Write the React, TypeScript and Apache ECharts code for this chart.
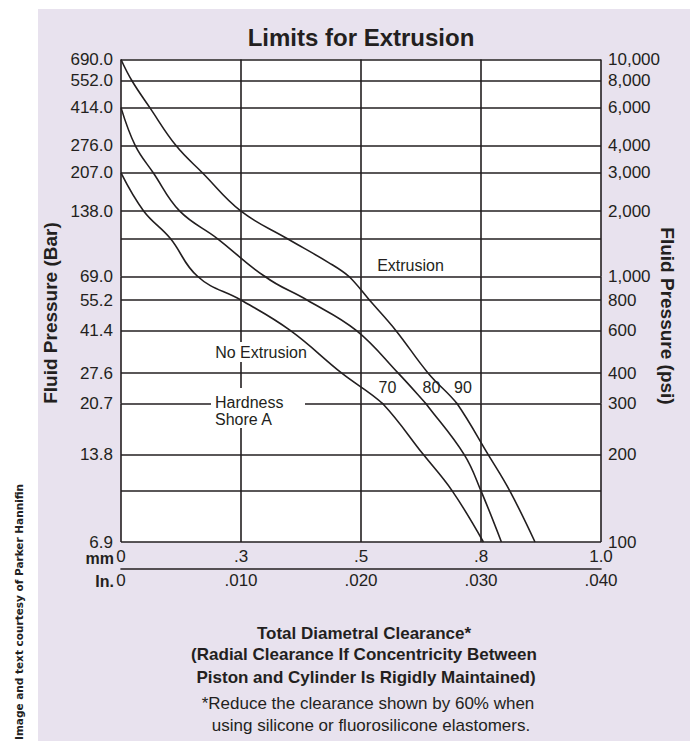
import React, { useEffect, useRef } from 'react';
import * as echarts from 'echarts';

// ---------- data ----------
// clearance axis (inches) and the two tick-label rows
const clearanceInTicks = [0, 0.01, 0.02, 0.03, 0.04];
const mmTickLabels = ['0', '.3', '.5', '.8', '1.0'];
const inTickLabels = ['0', '.010', '.020', '.030', '.040'];

// pressure gridlines / labels
const barTicks = [690, 552, 414, 276, 207, 138, 69, 55.2, 41.4, 27.6, 20.7, 13.8, 6.9];
const barUnlabeledLines = [103.5, 10.35];
const psiTicks = [10000, 8000, 6000, 4000, 3000, 2000, 1000, 800, 600, 400, 300, 200, 100];

// the printed pressure scale is not uniform: it is drawn as three log pieces
const barBands = [[69, 690], [20.7, 69], [6.9, 20.7]];
const psiBands = [[1000, 10000], [300, 1000], [100, 300]];

// curves: [clearance (in), pressure (bar)]
const shoreA70 = [
  [0.0, 207], [0.0019, 138], [0.0041, 103.5], [0.0064, 69], [0.01, 55.2], [0.0141, 41.4],
  [0.0184, 27.6], [0.0218, 20.7], [0.0252, 13.8], [0.0276, 10.35], [0.0302, 6.9],
];
const shoreA80 = [
  [0.0, 414], [0.0012, 276], [0.0027, 207], [0.0049, 138], [0.008, 103.5],
  [0.012, 69], [0.0155, 55.2], [0.0196, 41.4], [0.0231, 27.6], [0.0254, 20.7],
  [0.0286, 13.8], [0.03, 10.35], [0.0317, 6.9],
];
const shoreA90 = [
  [0.0, 690], [0.0009, 552], [0.0024, 414], [0.0046, 276], [0.0068, 207], [0.01, 138],
  [0.0138, 103.5], [0.0173, 80], [0.019, 69], [0.0207, 55.2], [0.0229, 41.4], [0.0256, 27.6],
  [0.028, 20.7], [0.0306, 13.8], [0.0324, 10.35], [0.0345, 6.9],
];
const curves = [shoreA70, shoreA80, shoreA90];

// ---------- layout / style ----------
const ink = '#231f20';
const font = '"Liberation Sans", Arial, Helvetica, sans-serif';
const PLOT_LEFT = 121;
const PLOT_WIDTH = 480;
const bandTops = [59.5, 276.5, 403.5];
const bandHeights = [217, 127, 138.5];
const LINE_W = 1.6;

const within = (v: number, lo: number, hi: number) => v >= lo * (1 - 1e-9) && v <= hi * (1 + 1e-9);
const bandOf = (v: number, bands: number[][]) => {
  for (let i = 0; i < bands.length; i++) if (v > bands[i][0] * (1 + 1e-9)) return i;
  return bands.length - 1;
};
// points of a curve inside a band, plus one neighbour on each side (clipped by the grid)
const bandPoints = (pts: number[][], lo: number, hi: number) => {
  const idx = pts.map((p, k) => (within(p[1], lo, hi) ? k : -1)).filter((k) => k >= 0);
  if (!idx.length) return [];
  const a = Math.max(0, idx[0] - 1);
  const b = Math.min(pts.length - 1, idx[idx.length - 1] + 1);
  return pts.slice(a, b + 1);
};

function buildOption() {
  const grids: any[] = [];
  const xAxes: any[] = [];
  const yAxes: any[] = [];
  const series: any[] = [];
  const labelStyle = { fontSize: 17, color: ink, fontFamily: font };
  const lastBand = barBands.length - 1;

  barBands.forEach(([lo, hi], i) => {
    grids.push({
      left: PLOT_LEFT, top: bandTops[i], width: PLOT_WIDTH, height: bandHeights[i],
      show: true, backgroundColor: '#ffffff', borderWidth: 0,
      outerBoundsMode: 'none', containLabel: false,
    });
    xAxes.push({
      type: 'value', gridIndex: i, min: clearanceInTicks[0], max: clearanceInTicks[clearanceInTicks.length - 1],
      interval: clearanceInTicks[1] - clearanceInTicks[0],
      axisLine: { show: false }, axisTick: { show: false },
      splitLine: { show: true, lineStyle: { color: ink, width: LINE_W } },
      axisLabel: i === lastBand
        ? { show: true, margin: 6, ...labelStyle,
            formatter: (v: number) => mmTickLabels[clearanceInTicks.findIndex((t) => Math.abs(t - v) < 1e-6)] ?? '' }
        : { show: false },
    });
    // shared boundary lines are drawn once (by the band above)
    const lines = [...barTicks, ...barUnlabeledLines].filter(
      (v) => within(v, lo, hi) && (i === lastBand || v > lo * (1 + 1e-9)),
    );
    const labels = barTicks.filter((v) => bandOf(v, barBands) === i);
    yAxes.push({
      type: 'log', logBase: 10, gridIndex: i, min: lo, max: hi, position: 'left',
      axisLine: { show: false },
      axisTick: { show: false, customValues: lines },
      splitLine: { show: true, lineStyle: { color: ink, width: LINE_W } },
      axisLabel: { customValues: labels, margin: 8, ...labelStyle, showMinLabel: true, showMaxLabel: true,
        formatter: (v: number) => Number(v).toFixed(1) },
    });
    const [plo, phi] = psiBands[i];
    const psiLabels = psiTicks.filter((v) => bandOf(v, psiBands) === i);
    yAxes.push({
      type: 'log', logBase: 10, gridIndex: i, min: plo, max: phi, position: 'right',
      axisLine: { show: false }, axisTick: { show: false, customValues: psiLabels },
      splitLine: { show: false },
      axisLabel: { customValues: psiLabels, margin: 7, ...labelStyle, showMinLabel: true, showMaxLabel: true,
        formatter: (v: number) => Math.round(Number(v)).toLocaleString('en-US') },
    });
    curves.forEach((pts) => {
      series.push({
        type: 'line', xAxisIndex: i, yAxisIndex: 2 * i, clip: true,
        data: bandPoints(pts, lo, hi),
        showSymbol: false, symbol: 'none', smooth: 0.4, silent: true,
        lineStyle: { color: ink, width: LINE_W }, z: 5,
      });
    });
  });

  // inch row (second x axis under the bottom piece)
  xAxes.push({
    type: 'value', gridIndex: lastBand, position: 'bottom', offset: 27,
    min: clearanceInTicks[0], max: clearanceInTicks[clearanceInTicks.length - 1],
    interval: clearanceInTicks[1] - clearanceInTicks[0],
    axisLine: { show: true, lineStyle: { color: ink, width: LINE_W } },
    axisTick: { show: false }, splitLine: { show: false },
    axisLabel: { show: true, margin: 3, ...labelStyle,
      formatter: (v: number) => inTickLabels[clearanceInTicks.findIndex((t) => Math.abs(t - v) < 1e-6)] ?? '' },
  });

  const txt = (text: string, x: number, y: number, o: any = {}) => ({
    type: 'text', x, y, z: o.z ?? 100, rotation: o.rotation ?? 0,
    style: {
      text, fill: o.fill ?? ink, fontFamily: o.fontFamily ?? font, fontSize: o.fontSize ?? 16,
      fontWeight: o.fontWeight ?? 'normal', textAlign: o.align ?? 'center',
      textVerticalAlign: 'middle', verticalAlign: 'middle',
      ...(o.bg ? { backgroundColor: o.bg, padding: o.padding ?? [1, 3] } : {}),
    },
  });

  const graphic: any[] = [
    txt('Limits for Extrusion', 361, 37, { fontSize: 24, fontWeight: 'bold' }),
    txt('Fluid Pressure (Bar)', 50.5, 313, { fontSize: 19, fontWeight: 'bold', rotation: Math.PI / 2 }),
    txt('Fluid Pressure (psi)', 667.5, 316, { fontSize: 19, fontWeight: 'bold', rotation: -Math.PI / 2 }),
    txt('mm', 114, 558.5, { fontSize: 16, fontWeight: 'bold', align: 'right' }),
    txt('In.', 114, 581, { fontSize: 16, fontWeight: 'bold', align: 'right' }),
    txt('Extrusion', 410.5, 265),
    txt('No Extrusion', 261, 352, { bg: '#ffffff', padding: [2, 2], z: 3 }),
    { type: 'rect', z: 3, shape: { x: 211, y: 388, width: 94, height: 40 }, style: { fill: '#ffffff' } },
    txt('Hardness', 215, 402, { align: 'left' }),
    txt('Shore A', 215, 419, { align: 'left' }),
    txt('70', 387.5, 387),
    txt('80', 431.5, 387),
    txt('90', 463, 387),
    txt('Total Diametral Clearance*', 364, 633, { fontSize: 17, fontWeight: 'bold' }),
    txt('(Radial Clearance If Concentricity Between', 364, 654, { fontSize: 17, fontWeight: 'bold' }),
    txt('Piston and Cylinder Is Rigidly Maintained)', 366, 677, { fontSize: 17, fontWeight: 'bold' }),
    txt('*Reduce the clearance shown by 60% when', 368, 703, { fontSize: 17 }),
    txt('using silicone or fluorosilicone elastomers.', 371, 725, { fontSize: 17 }),
    txt('Image and text courtesy of Parker Hannifin', 19, 612, {
      fontSize: 10.5, fontWeight: 'bold', fontFamily: '"DejaVu Sans", sans-serif', fill: '#222', rotation: Math.PI / 2,
    }),
  ];

  return {
    animation: false,
    backgroundColor: 'transparent',
    grid: grids,
    xAxis: xAxes,
    yAxis: yAxes,
    series,
    graphic,
  };
}

export default function App() {
  const ref = useRef<HTMLDivElement>(null);
  useEffect(() => {
    document.body.style.margin = '0';
    const chart = echarts.init(ref.current as HTMLDivElement, null, { renderer: 'svg' });
    chart.setOption(buildOption() as any);
    return () => chart.dispose();
  }, []);
  return (
    <div style={{ position: 'relative', width: 690, height: 741, background: '#ffffff', overflow: 'hidden' }}>
      <div style={{ position: 'absolute', left: 38, top: 9, right: 0, bottom: 0, background: '#e8e2ee' }} />
      <div ref={ref} style={{ position: 'absolute', left: 0, top: 0, width: 690, height: 741 }} />
    </div>
  );
}
